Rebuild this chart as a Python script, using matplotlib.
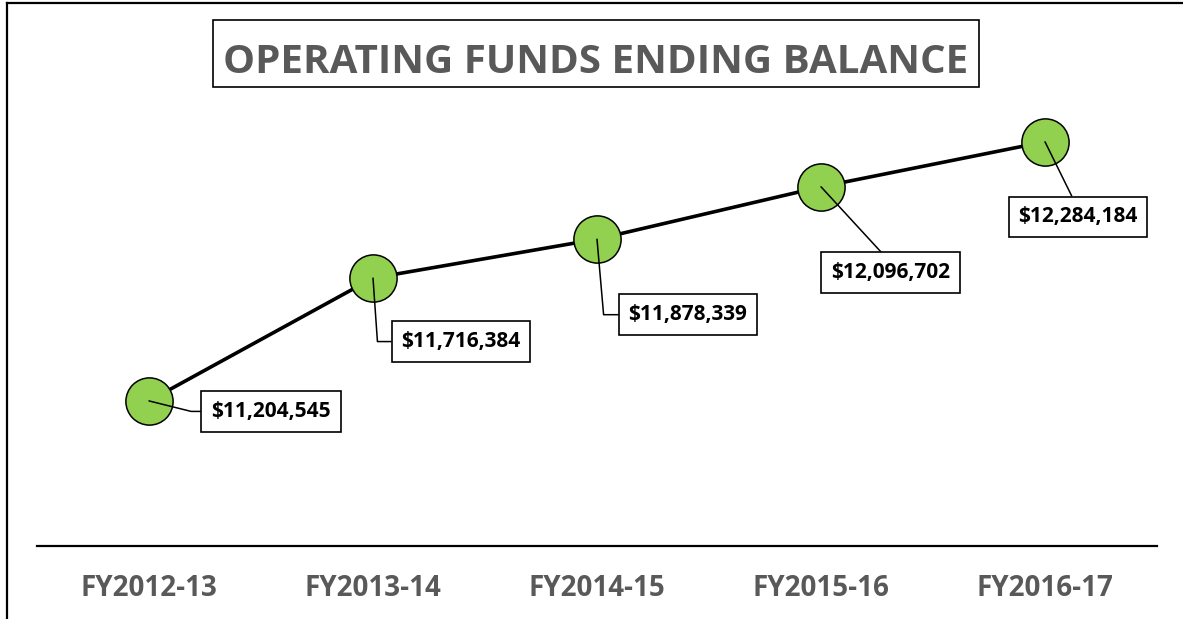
import matplotlib
matplotlib.use("Agg")
import matplotlib.pyplot as plt
from matplotlib.lines import Line2D
from matplotlib.patches import Rectangle

plt.rcParams['font.family'] = ['Open Sans', 'DejaVu Sans']

years = ["FY2012-13", "FY2013-14", "FY2014-15", "FY2015-16", "FY2016-17"]
balances = [11204545, 11716384, 11878339, 12096702, 12284184]
label_texts = ["$11,204,545", "$11,716,384", "$11,878,339", "$12,096,702", "$12,284,184"]

DPI = 100
W, H = 1183, 619
fig = plt.figure(figsize=(W / DPI, H / DPI), dpi=DPI)

# outer chart frame (only left and top edges are in view)
fig.add_artist(Line2D([7 / W, 7 / W], [0, 1 - 3 / H], color="black", lw=1.6))
fig.add_artist(Line2D([7 / W, 1], [1 - 3 / H, 1 - 3 / H], color="black", lw=1.6))

ax = fig.add_axes([37 / W, 73 / H, 1120 / W, 480 / H])
x = list(range(len(years)))
ax.plot(x, balances, color="black", lw=2.6, zorder=2)
ax.plot(x, balances, ls="none", marker="o", ms=34, mfc="#92D050", mec="black", mew=1.1, zorder=3)

ax.set_xlim(-0.5, len(years) - 0.5)
ax.set_ylim(10.6e6, 12.6e6)
ax.set_yticks([])
ax.set_xticks(x)
ax.set_xticklabels(years, fontsize=20, fontweight="bold", color="#595959")
ax.tick_params(axis="x", length=0, pad=20)
for s in ["top", "right", "left"]:
    ax.spines[s].set_visible(False)
ax.spines["bottom"].set_linewidth(1.6)

# label offsets in pixels (dx right, dy down) and leader styles
offsets = [(122, 10.5), (88, 63.5), (91, 75.5), (69.5, 86), (33, 75)]
conns = [
    ("angle,angleA=0,angleB=-14,rad=0", (0, 0.5)),
    ("angle,angleA=0,angleB=-86,rad=0", (0, 0.5)),
    ("angle,angleA=0,angleB=-85,rad=0", (0, 0.5)),
    ("arc3,rad=0", (0.5, 1)),
    ("arc3,rad=0", (0.49, 1)),
]
for xi, yv, txt, (dx, dy), (cs, rp) in zip(x, balances, label_texts, offsets, conns):
    ax.annotate(txt, xy=(xi, yv), xytext=(dx * 72 / DPI, -dy * 72 / DPI),
                textcoords="offset points", ha="center", va="center",
                fontsize=15, fontweight="bold", color="black", zorder=5,
                bbox=dict(boxstyle="square,pad=0.47", fc="white", ec="black", lw=1.2),
                arrowprops=dict(arrowstyle="-", color="black", lw=1.1,
                                connectionstyle=cs, relpos=rp, shrinkA=0, shrinkB=0))

# title with its frame
fig.add_artist(Rectangle((213 / W, 1 - 87 / H), 766 / W, 67 / H, fill=False, ec="black", lw=1.2))
fig.text(596 / W, 1 - 73 / H, "OPERATING FUNDS ENDING BALANCE", ha="center", va="baseline",
         fontsize=29, fontweight="bold", color="#595959")

fig.savefig("out.png", dpi=DPI)
